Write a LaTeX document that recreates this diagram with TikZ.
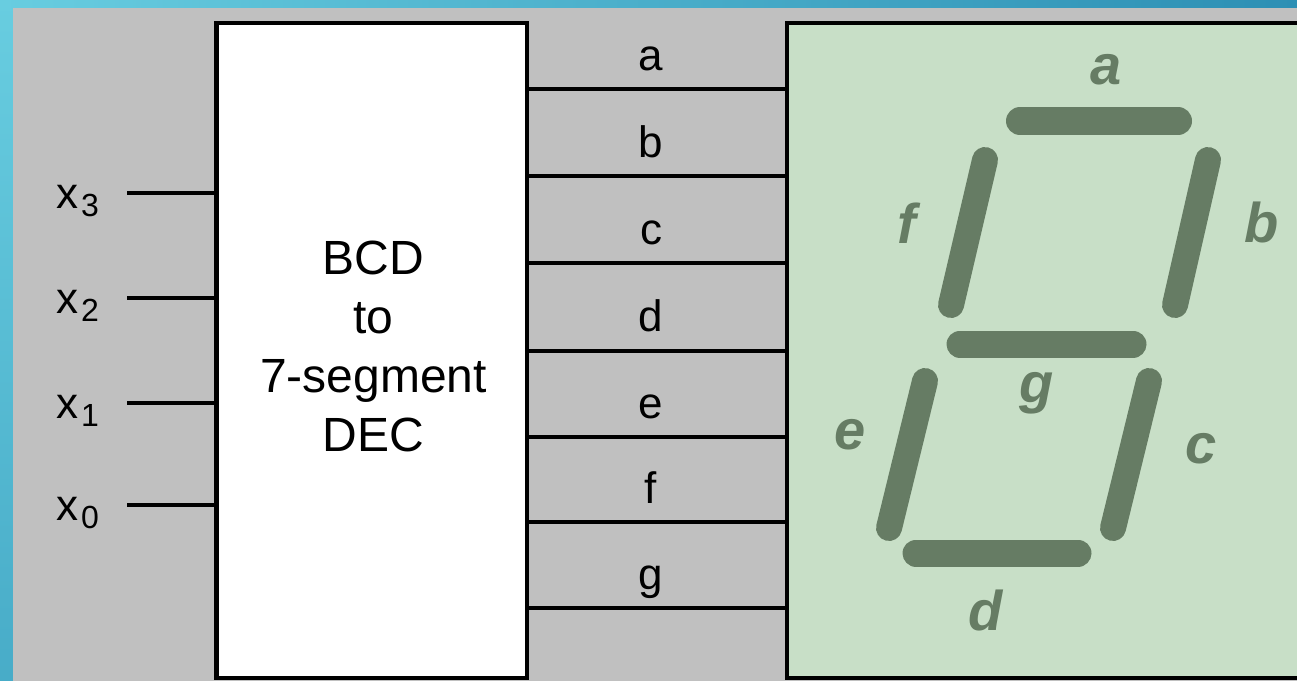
\documentclass[tikz,border=0pt]{standalone}
\usepackage{fontspec}
\setmainfont{Liberation Sans}
\definecolor{panelgray}{HTML}{C0C0C0}
\definecolor{lcdgreen}{HTML}{C8DFC7}
\definecolor{segdark}{HTML}{667C64}
\definecolor{bgul}{HTML}{68CDE0}
\definecolor{bgum}{HTML}{58BEDA}
\definecolor{bgur}{HTML}{2C8FB4}
\definecolor{bgll}{HTML}{48ACC8}
\tikzset{
  box/.style={draw=black,line width=4.5pt,inner sep=0pt,outer sep=0pt,anchor=north west},
  wire/.style={draw=black,line width=3.5pt},
  seglabel/.style={inner sep=0pt,font=\fontsize{56}{56}\selectfont\bfseries\itshape,text=segdark},
  wirelabel/.style={inner sep=0pt,font=\fontsize{44}{44}\selectfont},
  segbar/.style={draw=segdark,line width=28pt,line cap=round},
}
\begin{document}
\begin{tikzpicture}[x=1pt,y=-1pt]
\useasboundingbox (0,0) rectangle (1297,680);
\clip (0,0) rectangle (1297,680);
\shade[top color=bgul,bottom color=bgll] (0,0) rectangle (13,680);
\shade[left color=bgul,middle color=bgum,right color=bgur] (0,0) rectangle (1297,8);
\fill[panelgray] (13,8) rectangle (1297,681);
\node[box,fill=white,minimum width=310.5pt,minimum height=655pt] (dec) at (216.5,23) {};
\node[box,fill=lcdgreen,minimum width=530pt,minimum height=655pt] (lcd) at (787,23) {};
\node[inner sep=0pt,align=center,font=\fontsize{48}{59}\selectfont] (dectext) at (373.5,346) {BCD\\to\\7-segment\\DEC};
% inputs
\foreach \n/\yy/\s in {xa/193/3,xb/298/2,xc/403/1,xd/505/0}{
  \coordinate (\n) at (127,\yy);
  \draw[wire] (\n) -- (\n -| dec.west);
  \node[wirelabel,anchor=base west] (\n l) at (56,\yy+15) {x\kern3pt\raisebox{-8pt}{\fontsize{32}{32}\selectfont\s}};
}
% outputs
\foreach \n/\yy in {oa/89,ob/176,oc/263,od/351,oe/437,of/522,og/608}{
  \coordinate (\n) at (dec.east |- {0,\yy});
  \draw[wire] (\n) -- (\n -| lcd.west);
}
\foreach \n/\yy/\t in {la/70/a,lb/157/b,lc/244/c,ld/331/d,le/418/e,lf/503/f,lg/589/g}{
  \node[wirelabel,anchor=base] (\n) at (651,\yy) {\t};
}
% segments
\draw[segbar] (1020,121) -- (1178,121);
\draw[segbar,line width=27pt] (960,344) -- (1133,344);
\draw[segbar,line width=27pt] (916,553) -- (1078,553);
\draw[segbar,line width=26pt] (985,160) -- (951,305);
\draw[segbar,line width=26pt] (1208,160) -- (1175,305);
\draw[segbar,line width=26pt] (925,381) -- (889,528);
\draw[segbar,line width=26pt] (1149,381) -- (1113,528);
\node[seglabel] (sa) at (1106,70) {a};
\node[seglabel] (sb) at (1262,222) {b};
\node[seglabel] (sc) at (1201,449) {c};
\node[seglabel] (sd) at (986,610) {d};
\node[seglabel] (se) at (850,435) {e};
\node[seglabel] (sf) at (907,223) {f};
\node[seglabel] (sg) at (1037,393) {g};
\end{tikzpicture}
\end{document}
